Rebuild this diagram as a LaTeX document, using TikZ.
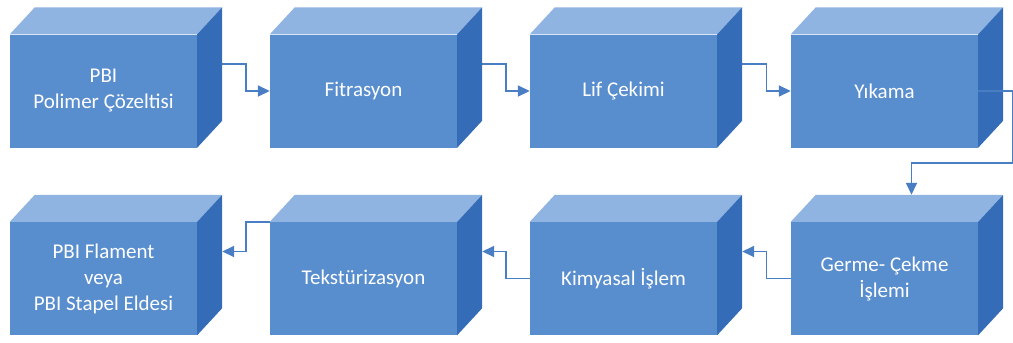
\documentclass[tikz,border=0pt]{standalone}
\usepackage{fontspec}
\setmainfont{Carlito}
\usetikzlibrary{arrows.meta,calc}
\definecolor{frontc}{RGB}{88,141,206}
\definecolor{topc}{RGB}{143,180,226}
\definecolor{sidec}{RGB}{52,108,184}
\definecolor{linec}{RGB}{74,126,196}
\tikzset{
 front/.style={fill=frontc, minimum width=187pt, minimum height=113pt, inner sep=0pt, text=white, font=\fontsize{21}{26}\selectfont, align=center},
 conn/.style={draw=linec, line width=1.6pt, -{Triangle[length=12pt,width=11pt]}},
 topface/.style={fill=topc},
 sideface/.style={fill=sidec},
}
\newcommand{\cubefaces}[1]{%
 \fill[topface] (#1.north west) -- ++(25,-27) -- ($(#1.north east)+(25,-27)$) -- (#1.north east) -- cycle;
 \fill[sideface] (#1.north east) -- ++(25,-27) -- ($(#1.south east)+(25,-27)$) -- (#1.south east) -- cycle;
}
\begin{document}
\begin{tikzpicture}[x=1pt,y=-1pt]
\useasboundingbox (0,0) rectangle (1013,343);
% row 1
\node[front] (b1) at (103.5,91) {PBI\\Polimer Çözeltisi};
\node[front] (b2) at (363.5,91) {Fitrasyon};
\node[front] (b3) at (623.5,91) {Lif Çekimi};
\node[front] (b4) at (884.5,91) {Yıkama};
% row 2
\node[front] (b5) at (884.5,278.5) {Germe- Çekme\\İşlemi};
\node[front] (b6) at (623.5,278.5) {Kimyasal İşlem};
\node[front] (b7) at (363.5,278.5) {Tekstürizasyon};
\node[front] (b8) at (103.5,278.5) {PBI Flament\\veya\\PBI Stapel Eldesi};
\cubefaces{b1}\cubefaces{b2}\cubefaces{b3}\cubefaces{b4}
\cubefaces{b5}\cubefaces{b6}\cubefaces{b7}\cubefaces{b8}
% connectors row 1
\coordinate (s1) at ($(b1.east)+(25,-27)$);
\coordinate (s2) at ($(b2.east)+(25,-27)$);
\coordinate (s3) at ($(b3.east)+(25,-27)$);
\draw[conn] (s1) -| ($(s1)!0.5!(b2.west)$) |- (b2.west);
\draw[conn] (s2) -| ($(s2)!0.5!(b3.west)$) |- (b3.west);
\draw[conn] (s3) -| ($(s3)!0.5!(b4.west)$) |- (b4.west);
% Yikama to Germe
\coordinate (g1) at ($(b5.north)+(27,-59)$);
\coordinate (g2) at ($(b5.north)+(27,-27)$);
\draw[conn] (b4.east) -- ++(35,0) |- (g1) -- (g2);
% row 2
\coordinate (t6) at ($(b6.east)+(25,-27)$);
\coordinate (t7) at ($(b7.east)+(25,-27)$);
\coordinate (t8) at ($(b8.east)+(25,-27)$);
\draw[conn] (b5.west) -| ($(b5.west)!0.5!(t6)$) |- (t6);
\draw[conn] (b6.west) -| ($(b6.west)!0.5!(t7)$) |- (t7);
\draw[conn] (b7.north west) -| ($(b7.north west)!0.5!(t8)$) |- (t8);
\end{tikzpicture}
\end{document}
